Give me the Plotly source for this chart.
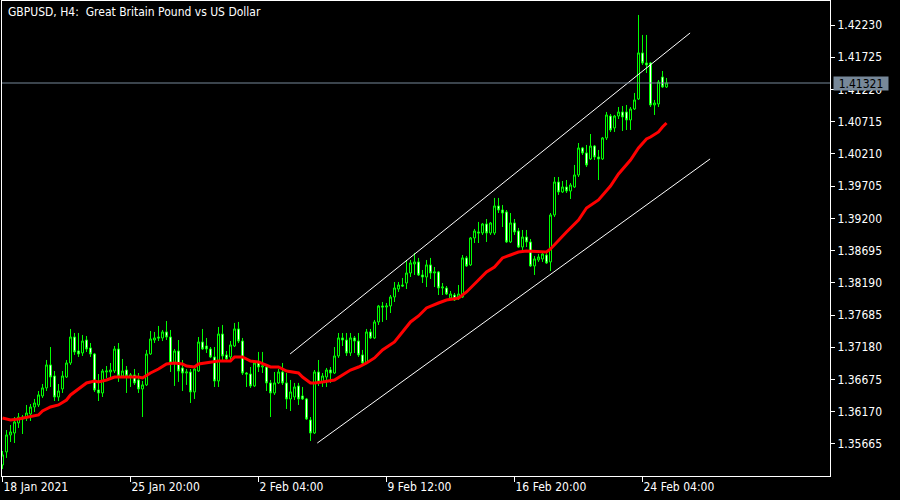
import plotly.graph_objects as go

# ---------------- data ----------------
bar_index = list(range(167))

opens = [
    1.35336, 1.35540, 1.35806, 1.35837, 1.35994, 1.36087, 1.36072, 1.36134, 1.36244, 1.36276,
    1.36417, 1.36543, 1.36903, 1.36730, 1.36401, 1.36527, 1.36714, 1.36934, 1.37341, 1.37122,
    1.37091, 1.37294, 1.37169, 1.37075, 1.36511, 1.36464, 1.36793, 1.36793, 1.36808, 1.37153,
    1.36730, 1.36824, 1.36730, 1.36746, 1.36668, 1.36527, 1.36590, 1.37075, 1.37294, 1.37341,
    1.37326, 1.37420, 1.37341, 1.36934, 1.37122, 1.36856, 1.36777, 1.36793, 1.36480, 1.36808,
    1.37263, 1.37200, 1.37153, 1.37028, 1.36652, 1.37388, 1.37060, 1.37028, 1.37200, 1.37467,
    1.37278, 1.36777, 1.36761, 1.36574, 1.36934, 1.36871, 1.36871, 1.36621, 1.36464, 1.36621,
    1.36793, 1.36621, 1.36370, 1.36401, 1.36574, 1.36417, 1.36370, 1.36041, 1.35837, 1.36793,
    1.36637, 1.36714, 1.36824, 1.36777, 1.37044, 1.37326, 1.37294, 1.37091, 1.37326, 1.37278,
    1.37060, 1.36934, 1.37420, 1.37326, 1.37577, 1.37827, 1.37811, 1.37827, 1.37968, 1.38093,
    1.38156, 1.38187, 1.38344, 1.38485, 1.38517, 1.38313, 1.38281, 1.38470, 1.38344, 1.38360,
    1.38109, 1.38109, 1.37952, 1.37999, 1.37968, 1.37968, 1.38580, 1.38470, 1.38893, 1.38987,
    1.38971, 1.39112, 1.38971, 1.38971, 1.39394, 1.39331, 1.39300, 1.38830, 1.39128, 1.39002,
    1.38751, 1.38908, 1.38830, 1.38454, 1.38548, 1.38564, 1.38626, 1.38517, 1.39253, 1.39770,
    1.39614, 1.39692, 1.39629, 1.39692, 1.39880, 1.40303, 1.40225, 1.40131, 1.40334, 1.40162,
    1.40131, 1.40460, 1.40804, 1.40617, 1.40804, 1.40867, 1.40867, 1.40742, 1.40914, 1.41071,
    1.41792, 1.41635, 1.41635, 1.40977, 1.40992, 1.41415, 1.41259,
]

highs = [
    1.35555, 1.35884, 1.35963, 1.36087, 1.36150, 1.36119, 1.36276, 1.36291, 1.36370, 1.36495,
    1.36605, 1.36981, 1.37184, 1.36808, 1.36605, 1.36808, 1.36981, 1.37467, 1.37404, 1.37404,
    1.37373, 1.37357, 1.37247, 1.37091, 1.36761, 1.36840, 1.36887, 1.36934, 1.37200, 1.37247,
    1.36997, 1.36887, 1.36777, 1.36840, 1.36777, 1.36652, 1.37138, 1.37435, 1.37420, 1.37514,
    1.37451, 1.37592, 1.37451, 1.37153, 1.37294, 1.36981, 1.36840, 1.36840, 1.36856, 1.37341,
    1.37467, 1.37326, 1.37184, 1.37184, 1.37498, 1.37530, 1.37122, 1.37278, 1.37561, 1.37577,
    1.37326, 1.36793, 1.36871, 1.36950, 1.37107, 1.37107, 1.36887, 1.36668, 1.36793, 1.36840,
    1.36934, 1.36777, 1.36668, 1.36621, 1.36621, 1.36558, 1.36386, 1.36087, 1.36824, 1.36981,
    1.36777, 1.36856, 1.36871, 1.37184, 1.37404, 1.37404, 1.37404, 1.37404, 1.37357, 1.37404,
    1.37138, 1.37467, 1.37467, 1.37608, 1.37843, 1.37890, 1.37874, 1.37999, 1.38203, 1.38203,
    1.38266, 1.38548, 1.38548, 1.38658, 1.38580, 1.38391, 1.38548, 1.38580, 1.38438, 1.38375,
    1.38187, 1.38140, 1.38062, 1.38031, 1.38156, 1.38626, 1.38611, 1.38908, 1.39034, 1.39144,
    1.39128, 1.39190, 1.39144, 1.39520, 1.39520, 1.39410, 1.39331, 1.39284, 1.39190, 1.39050,
    1.39018, 1.39018, 1.38877, 1.38611, 1.38642, 1.38673, 1.38658, 1.39284, 1.39848, 1.39848,
    1.39785, 1.39801, 1.39754, 1.40037, 1.40381, 1.40319, 1.40350, 1.40522, 1.40350, 1.40272,
    1.40475, 1.40867, 1.40836, 1.40820, 1.40945, 1.40961, 1.40977, 1.40945, 1.41165, 1.42387,
    1.42074, 1.42074, 1.41651, 1.41055, 1.41368, 1.41509, 1.41400,
]

lows = [
    1.35273, 1.35446, 1.35696, 1.35680, 1.35916, 1.35821, 1.36025, 1.36025, 1.36166, 1.36244,
    1.36386, 1.36495, 1.36558, 1.36338, 1.36338, 1.36464, 1.36699, 1.36903, 1.37060, 1.37028,
    1.37044, 1.37107, 1.37028, 1.36480, 1.36338, 1.36401, 1.36699, 1.36714, 1.36777, 1.36637,
    1.36714, 1.36464, 1.36558, 1.36590, 1.36464, 1.36087, 1.36574, 1.37060, 1.37247, 1.37278,
    1.37278, 1.37294, 1.36793, 1.36574, 1.36637, 1.36495, 1.36590, 1.36307, 1.36370, 1.36793,
    1.37138, 1.37091, 1.37013, 1.36558, 1.36558, 1.36981, 1.36965, 1.36965, 1.37184, 1.37247,
    1.36746, 1.36558, 1.36543, 1.36558, 1.36793, 1.36777, 1.36495, 1.36087, 1.36433, 1.36605,
    1.36590, 1.36213, 1.36181, 1.36354, 1.36276, 1.36354, 1.36041, 1.35711, 1.35821, 1.36574,
    1.36558, 1.36558, 1.36621, 1.36761, 1.37013, 1.37200, 1.37044, 1.37044, 1.37091, 1.37028,
    1.36903, 1.36918, 1.37310, 1.37310, 1.37530, 1.37577, 1.37608, 1.37717, 1.37890, 1.38047,
    1.38124, 1.38093, 1.38281, 1.38313, 1.38297, 1.38187, 1.38124, 1.38250, 1.38124, 1.37999,
    1.37999, 1.37999, 1.37921, 1.37905, 1.37921, 1.37952, 1.38438, 1.38454, 1.38814, 1.38814,
    1.38940, 1.38830, 1.38940, 1.38940, 1.39284, 1.39065, 1.38814, 1.38814, 1.38940, 1.38736,
    1.38705, 1.38751, 1.38438, 1.38313, 1.38517, 1.38517, 1.38485, 1.38375, 1.39222, 1.39567,
    1.39598, 1.39598, 1.39504, 1.39676, 1.39848, 1.40194, 1.40005, 1.40115, 1.40115, 1.39801,
    1.40115, 1.40428, 1.40554, 1.40554, 1.40757, 1.40569, 1.40585, 1.40585, 1.40898, 1.41055,
    1.41604, 1.41478, 1.40945, 1.40820, 1.40945, 1.41243, 1.41243,
]

closes = [
    1.35493, 1.35806, 1.35853, 1.36010, 1.36087, 1.36056, 1.36150, 1.36244, 1.36307, 1.36433,
    1.36543, 1.36903, 1.36714, 1.36401, 1.36495, 1.36730, 1.36934, 1.37341, 1.37107, 1.37075,
    1.37278, 1.37153, 1.37075, 1.36511, 1.36464, 1.36808, 1.36808, 1.36824, 1.37153, 1.36730,
    1.36808, 1.36730, 1.36746, 1.36621, 1.36527, 1.36590, 1.37075, 1.37310, 1.37326, 1.37326,
    1.37420, 1.37341, 1.36934, 1.37122, 1.36808, 1.36777, 1.36793, 1.36480, 1.36840, 1.37263,
    1.37153, 1.37153, 1.37028, 1.36652, 1.37388, 1.37044, 1.36997, 1.37216, 1.37467, 1.37278,
    1.36777, 1.36761, 1.36574, 1.36934, 1.36871, 1.36887, 1.36621, 1.36464, 1.36621, 1.36793,
    1.36621, 1.36370, 1.36480, 1.36558, 1.36370, 1.36370, 1.36056, 1.35837, 1.36793, 1.36637,
    1.36730, 1.36824, 1.36777, 1.37044, 1.37326, 1.37294, 1.37091, 1.37326, 1.37278, 1.37060,
    1.36934, 1.37420, 1.37326, 1.37577, 1.37827, 1.37811, 1.37827, 1.37968, 1.38109, 1.38156,
    1.38140, 1.38344, 1.38501, 1.38517, 1.38313, 1.38281, 1.38470, 1.38344, 1.38360, 1.38109,
    1.38124, 1.38015, 1.38015, 1.37921, 1.38015, 1.38580, 1.38454, 1.38893, 1.39002, 1.38971,
    1.39112, 1.38971, 1.39128, 1.39394, 1.39331, 1.39284, 1.38830, 1.39128, 1.38987, 1.38751,
    1.38908, 1.38830, 1.38454, 1.38564, 1.38595, 1.38642, 1.38501, 1.39253, 1.39770, 1.39614,
    1.39692, 1.39629, 1.39723, 1.39880, 1.40303, 1.40225, 1.40037, 1.40334, 1.40162, 1.40131,
    1.40460, 1.40820, 1.40585, 1.40804, 1.40867, 1.40789, 1.40742, 1.40914, 1.41055, 1.41792,
    1.41635, 1.41604, 1.40977, 1.41008, 1.41337, 1.41259, 1.41321,
]

# moving average (red line), read at sample bars
ma_index = [0, 2, 4, 7, 9, 10, 12, 14, 16, 17, 19, 21, 23, 24, 26, 28, 32, 34, 35, 37,
            39, 41, 43, 45, 46, 48, 49, 51, 54, 57, 58, 60, 62, 64, 67, 69, 71, 74, 75, 77,
            78, 80, 83, 85, 87, 89, 91, 93, 95, 98, 100, 102, 104, 106, 109, 111, 114, 116, 119, 121,
            123, 125, 127, 129, 131, 134, 136, 137, 139, 141, 144, 146, 149, 150, 152, 154, 157, 159, 161, 162,
            164, 165, 166]
ma_values = [1.36072, 1.36041, 1.36056, 1.36087, 1.36119, 1.36181, 1.36244, 1.36276, 1.36354, 1.36433,
             1.36527, 1.36621, 1.36652, 1.36637, 1.36668, 1.36714, 1.36714, 1.36714, 1.36699, 1.36777,
             1.36840, 1.36918, 1.36934, 1.36918, 1.36887, 1.36871, 1.36918, 1.36934, 1.36965, 1.36965,
             1.37028, 1.37028, 1.36965, 1.36950, 1.36871, 1.36871, 1.36808, 1.36777, 1.36714, 1.36621,
             1.36621, 1.36637, 1.36668, 1.36746, 1.36824, 1.36871, 1.36934, 1.37013, 1.37138, 1.37263,
             1.37420, 1.37577, 1.37671, 1.37796, 1.37874, 1.37921, 1.37952, 1.38047, 1.38234, 1.38360,
             1.38438, 1.38580, 1.38626, 1.38673, 1.38689, 1.38673, 1.38673, 1.38720, 1.38861, 1.38987,
             1.39175, 1.39363, 1.39488, 1.39567, 1.39707, 1.39895, 1.40115, 1.40303, 1.40444, 1.40475,
             1.40554, 1.40632, 1.40695]

# channel lines (bar position, price)
channel_upper_x = [71.9, 171.9]
channel_upper_y = [1.37075, 1.42105]
channel_lower_x = [78.7, 176.9]
channel_lower_y = [1.35680, 1.40131]

date_ticks = [0, 32, 64, 96, 128, 160]
date_labels = ["18 Jan 2021", "25 Jan 20:00", "2 Feb 04:00", "9 Feb 12:00", "16 Feb 20:00", "24 Feb 04:00"]

price_ticks = [1.42230, 1.41725, 1.41220, 1.40715, 1.40210, 1.39705, 1.39200,
               1.38695, 1.38190, 1.37685, 1.37180, 1.36675, 1.36170, 1.35665]
price_labels = ["%.5f" % p for p in price_ticks]

title_text = "GBPUSD, H4:\u00a0 Great Britain Pound vs US Dollar"
last_price = closes[-1]

# ---------------- figure ----------------
FONT = "DejaVu Sans Condensed, DejaVu Sans, sans-serif"
FSIZE = 12
fig = go.Figure()

fig.add_trace(go.Scatter(x=channel_upper_x, y=channel_upper_y, mode="lines",
                         line=dict(color="#ffffff", width=1), hoverinfo="skip", showlegend=False))
fig.add_trace(go.Scatter(x=channel_lower_x, y=channel_lower_y, mode="lines",
                         line=dict(color="#ffffff", width=1), hoverinfo="skip", showlegend=False))

fig.add_trace(go.Candlestick(
    x=bar_index, open=opens, high=highs, low=lows, close=closes,
    increasing=dict(line=dict(color="#00ff00", width=1), fillcolor="#000000"),
    decreasing=dict(line=dict(color="#00ff00", width=1), fillcolor="#ffffff"),
    whiskerwidth=0, showlegend=False, hoverinfo="skip"))

fig.add_trace(go.Scatter(x=ma_index, y=ma_values, mode="lines",
                         line=dict(color="#ff0000", width=3), hoverinfo="skip", showlegend=False))

fig.add_shape(type="line", xref="paper", x0=0, x1=1, yref="y", y0=last_price, y1=last_price,
              line=dict(color="#778899", width=1))

fig.add_annotation(xref="paper", x=1, xanchor="left", xshift=3, yref="y", y=last_price,
                   yanchor="middle", text="%.5f" % last_price, showarrow=False,
                   bgcolor="#778899", borderpad=1, width=52, height=11,
                   font=dict(family=FONT, size=FSIZE, color="#000000"))

fig.add_annotation(xref="paper", x=0, xanchor="left", xshift=4, yref="paper", y=1,
                   yanchor="top", yshift=-2, text=title_text, showarrow=False,
                   font=dict(family=FONT, size=FSIZE, color="#ffffff"))

fig.update_layout(
    width=900, height=500,
    margin=dict(l=2, r=70, t=1, b=24),
    paper_bgcolor="#000000", plot_bgcolor="#000000",
    font=dict(family=FONT, size=FSIZE, color="#ffffff"),
    showlegend=False,
    boxgap=0.5, boxgroupgap=0,
    xaxis=dict(type="linear", range=[-0.125, 206.875], tickvals=date_ticks, ticktext=date_labels,
               ticks="outside", ticklen=5, tickcolor="#ffffff", tickwidth=1,
               ticklabelposition="outside right",
               showline=True, linecolor="#ffffff", linewidth=1, mirror=True,
               showgrid=False, zeroline=False, rangeslider=dict(visible=False),
               tickfont=dict(family=FONT, size=FSIZE, color="#ffffff")),
    yaxis=dict(side="right", range=[1.35163, 1.42606], tickvals=price_ticks, ticktext=price_labels,
               ticks="outside", ticklen=4, tickcolor="#ffffff", tickwidth=1,
               showline=True, linecolor="#ffffff", linewidth=1, mirror=True,
               showgrid=False, zeroline=False,
               tickfont=dict(family=FONT, size=FSIZE, color="#ffffff")),
)

fig.write_html("out.html", config={"displayModeBar": False},
               post_script="document.body.style.margin='0px';")
